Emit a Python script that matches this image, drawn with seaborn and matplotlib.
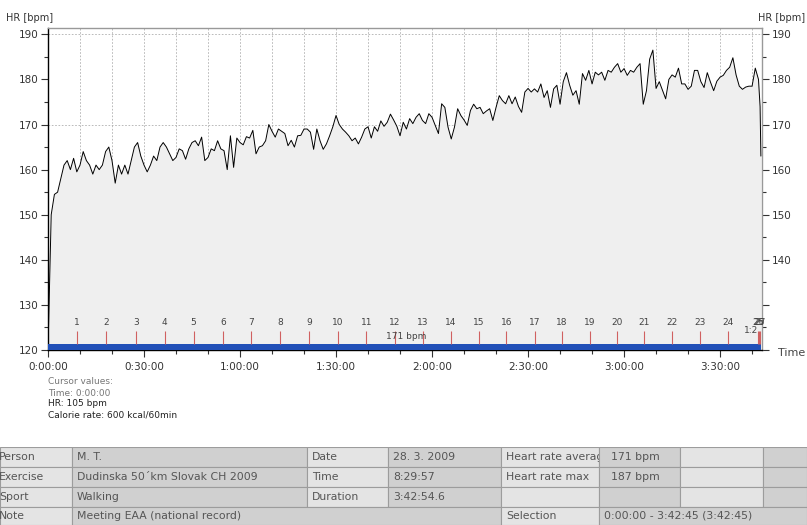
import numpy as np
import matplotlib
matplotlib.use('Agg')
import matplotlib.pyplot as plt
import seaborn as sns
from matplotlib.patches import Rectangle

sns.set_style('ticks')
plt.rcParams['font.family'] = ['DejaVu Sans']

# Heart rate, one value per minute, then the final drop
hr_bpm = [
    120, 150, 154.5, 155, 158, 161, 162, 160, 162.5, 159.5,
    161, 164, 162, 161, 159, 161, 160, 161, 164, 165,
    162, 157, 161, 159, 161, 159, 162, 165, 166, 163,
    161, 159.5, 161, 163, 162, 165, 166, 165, 163.5, 162,
    162.7, 164.6, 164.2, 162.3, 164.6, 166, 166.4, 165.3, 167.2, 162,
    162.7, 164.6, 164.2, 166.4, 164.6, 164.2, 160, 167.5, 160.5, 167,
    166, 165.5, 167.3, 167, 168.7, 163.5, 165, 165.3, 166.4, 170,
    168.5, 167.2, 169, 168.5, 168, 165.3, 166.5, 165, 167.5, 167.6,
    169, 169, 168.3, 164.5, 169, 166.4, 164.5, 165.7, 167.5, 169.5,
    172, 170, 169, 168.3, 167.5, 166.4, 167, 165.7, 167.2, 169,
    169.5, 167, 169.5, 168.5, 170.8, 169.6, 170.5, 172.3, 171, 169.6,
    167.5, 170.5, 169, 171.3, 170.2, 171.6, 172.4, 170.9, 170.2, 172.4,
    171.6, 169.8, 168, 174.6, 173.8, 169.4, 166.8, 169.4, 173.5, 172,
    171, 169.8, 173.1, 174.5, 173.5, 173.8, 172.4, 173, 173.5, 170.9,
    173.8, 176.4, 175.3, 174.6, 176.4, 174.6, 176.1, 174, 172.7, 177.2,
    178, 177.2, 177.9, 177.2, 179, 176, 177.5, 173.8, 177.9, 178.7,
    174.5, 179.5, 181.5, 178.7, 176.5, 177.5, 174.5, 181.3, 179.8, 182,
    179, 181.6, 181, 181.6, 179.8, 182, 181.6, 182.7, 183.5, 181.6,
    182.4, 180.9, 182, 181.6, 182.7, 183.5, 174.5, 177.5, 184.5, 186.5,
    178, 179.5, 177.6, 175.7, 180, 181, 180.5, 182.5, 179, 179,
    177.8, 178.5, 182, 182, 179.5, 178.2, 181.5, 179.4, 177.5, 179.6,
    180.5, 180.9, 182, 182.7, 184.8, 181, 178.5, 177.8, 178.3, 178.5,
    178.5, 182.5, 180, 174, 163,
]
minutes = list(range(223)) + [222.5, 222.75]

lap_minutes = [8.97, 18.1, 27.4, 36.5, 45.5, 54.7, 63.5, 72.6, 81.6, 90.5,
               99.5, 108.4, 117.1, 125.8, 134.6, 143.2, 152.2, 160.6, 169.3,
               177.7, 186.2, 195.0, 203.7, 212.4, 221.9, 222.3, 222.6]
lap_labels = [str(i) for i in range(1, 28)]

zone_limits = [170, 190]
time_ticks = [0, 30, 60, 90, 120, 150, 180, 210]
time_labels = ['0:00:00', '0:30:00', '1:00:00', '1:30:00',
               '2:00:00', '2:30:00', '3:00:00', '3:30:00']

cursor_lines = ['Cursor values:', 'Time: 0:00:00', 'HR: 105 bpm',
                'Calorie rate: 600 kcal/60min']

table_rows = [
    ['Person', 'M. T.', 'Date', '28. 3. 2009', 'Heart rate average', '171 bpm', '', ''],
    ['Exercise', 'Dudinska 50\u00b4km Slovak CH 2009', 'Time', '8:29:57', 'Heart rate max', '187 bpm', '', ''],
    ['Sport', 'Walking', 'Duration', '3:42:54.6', '', '', '', ''],
]
note_row = ['Note', 'Meeting EAA (national record)', 'Selection', '0:00:00 - 3:42:45 (3:42:45)']

# figure
fig = plt.figure(figsize=(8.07, 5.25), dpi=100)
ax = fig.add_axes([48/807, 175/525, 714/807, 322/525])

ax.set_axisbelow(True)
ax.grid(axis='x', which='both', linestyle=(0, (2, 2)), color='#b0b0b0', linewidth=0.6)
for z in zone_limits:
    ax.axhline(z, linestyle=(0, (2, 2)), color='#b0b0b0', linewidth=0.6, zorder=0.5)

ax.fill_between(minutes, hr_bpm, 120, color='#efefef', zorder=1, linewidth=0)
sns.lineplot(x=minutes, y=hr_bpm, ax=ax, color='black', linewidth=0.7, zorder=3)

# bottom bar + laps
ax.fill_between([0, minutes[-1]], 120, 121.4, color='#2150b8', zorder=4, linewidth=0)
ax.vlines(lap_minutes, 121.4, 124.2, colors='#d06060', linewidth=0.8, zorder=5)
for t, lab in zip(lap_minutes, lap_labels):
    ax.text(t, 126.1, lab, ha='center', va='center', fontsize=6.5, color='#444444', zorder=6)
ax.text(112, 122.9, '171 bpm', ha='center', va='center', fontsize=6.5, color='#444444', zorder=6)
ax.text(221.9, 124.4, '1:2', ha='right', va='center', fontsize=6.5, color='#444444', zorder=6)

ax.set_xlim(0, 223.1)
ax.set_ylim(120, 191.4)
ax.set_xticks(time_ticks)
ax.set_xticklabels(time_labels)
ax.set_xticks(np.arange(0, 223, 10), minor=True)
ax.set_yticks(range(120, 191, 10))
ax.set_yticks(range(125, 191, 10), minor=True)
ax.set_xlabel('')
ax.set_ylabel('')

ax.tick_params(axis='both', which='major', direction='out', length=5, width=0.8,
               colors='#333333', labelsize=7.5, pad=2)
ax.tick_params(axis='both', which='minor', direction='out', length=3, width=0.8,
               colors='#333333')
ax.tick_params(axis='y', which='both', left=True, right=True,
               labelleft=True, labelright=True)
ax.tick_params(axis='x', which='major', pad=4)

# right-hand labels stop at 140 in the original
for val, tick in zip(ax.get_yticks(), ax.yaxis.get_major_ticks()):
    if val < 140:
        tick.label2.set_visible(False)

for side in ['left', 'bottom']:
    ax.spines[side].set_color('black')
    ax.spines[side].set_linewidth(1)
for side in ['top', 'right']:
    ax.spines[side].set_visible(True)
    ax.spines[side].set_color('#999999')
    ax.spines[side].set_linewidth(1)

fig.text(6/807, 1 - 18/525, 'HR [bpm]', fontsize=7, color='#333333', va='center')
fig.text(805/807, 1 - 18/525, 'HR [bpm]', fontsize=7, color='#333333', va='center', ha='right')
fig.text(778/807, 1 - 353/525, 'Time', fontsize=8, color='#444444', va='center')

for i, line in enumerate(cursor_lines):
    fig.text(48/807, 1 - (382 + 11 * i)/525, line, fontsize=6.5,
             color='#777777' if i < 2 else '#222222', va='center')

# info table
tab = fig.add_axes([0, 0, 1, 78/525])
tab.set_xlim(0, 807)
tab.set_ylim(525, 447)
tab.axis('off')
col_x = [0, 72, 307, 388, 501, 599, 680, 763, 807]
row_y = [447, 467, 487, 507, 525]
light, dark = '#e4e4e4', '#d0d0d0'


def cell(x0, x1, y0, y1, color, text, pad=5):
    r = Rectangle((x0, y0), x1 - x0, y1 - y0, facecolor=color,
                  edgecolor='#9c9c9c', linewidth=0.8)
    tab.add_patch(r)
    if text:
        t = tab.text(x0 + pad, (y0 + y1) / 2, text, fontsize=7.8,
                     color='#555555', va='center', ha='left', clip_on=True)
        t.set_clip_path(r)


for r, row in enumerate(table_rows):
    for c, txt in enumerate(row):
        pad = -1 if c == 0 else (12 if c == 5 else 5)
        cell(col_x[c], col_x[c + 1], row_y[r], row_y[r + 1],
             light if c % 2 == 0 else dark, txt, pad)

cell(col_x[0], col_x[1], row_y[3], row_y[4], light, note_row[0], -1)
cell(col_x[1], col_x[4], row_y[3], row_y[4], dark, note_row[1])
cell(col_x[4], col_x[5], row_y[3], row_y[4], light, note_row[2])
cell(col_x[5], col_x[8], row_y[3], row_y[4], dark, note_row[3])

fig.savefig('out.png', dpi=100)
